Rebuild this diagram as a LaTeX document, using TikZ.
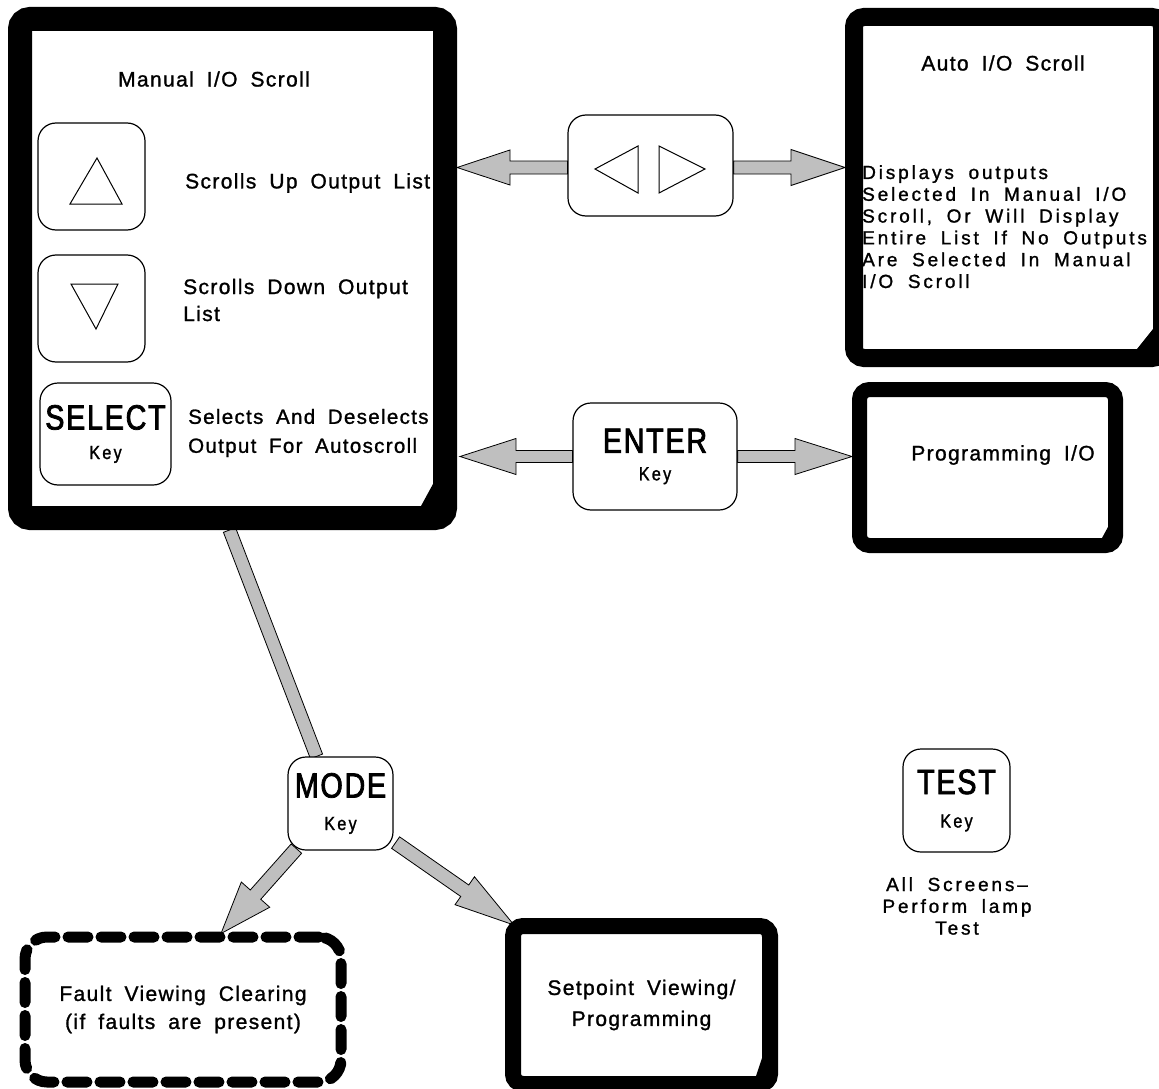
\documentclass[tikz,border=0pt]{standalone}
\usepackage{fontspec}
\setmainfont{Liberation Sans}
\newfontfamily\cadA[LetterSpace=6.5,WordSpace=1.8,FakeBold=1.2]{Liberation Sans}
\newfontfamily\cadB[LetterSpace=15,WordSpace=1.8,FakeBold=1.2]{Liberation Sans}
\newfontfamily\cadBig[FakeStretch=0.82,LetterSpace=5,FakeBold=2.2]{Liberation Sans}
\newfontfamily\cadKey[FakeStretch=0.85,LetterSpace=12,FakeBold=1.4]{Liberation Sans}
\usetikzlibrary{calc}
\pgfdeclarelayer{back}
\pgfdeclarelayer{conn}
\pgfsetlayers{back,conn,main}
\newcommand\cadbigtext[1]{{\cadBig\fontsize{35}{35}\selectfont #1}}
\newcommand\cadkeytext{{\cadKey Key}}
% #1 tail, #2 tip, #3 shaft half width, #4 head half width, #5 head length
\newcommand\fatarrow[5]{%
  \coordinate (fah) at ($(#2)!#5!(#1)$);
  \draw[fatarr] ($(#1)!#3!90:(#2)$) -- ($(fah)!#3!90:(#2)$) -- ($(fah)!#4!90:(#2)$) -- (#2)
    -- ($(fah)!#4!-90:(#2)$) -- ($(fah)!#3!-90:(#2)$) -- ($(#1)!#3!-90:(#2)$) -- cycle;}
\newcommand\fatband[3]{%
  \draw[fatarr] ($(#1)!#3!90:(#2)$) -- ($(#2)!#3!-90:(#1)$) -- ($(#2)!#3!90:(#1)$) -- ($(#1)!#3!-90:(#2)$) -- cycle;}
\begin{document}
\begin{tikzpicture}[x=1pt,y=-1pt,
  lbl/.style={inner sep=0pt, font=\cadA\fontsize{21}{28}\selectfont},
  bodytxt/.style={inner sep=0pt, font=\cadB\fontsize{19}{21.8}\selectfont},
  keybox/.style={draw, fill=white, line width=1.2pt, rounded corners=18pt, inner sep=0pt,
    align=center, font=\fontsize{19}{#1}\selectfont},
  thickbox/.style={draw, fill=white, line width=#1, rounded corners=10pt, inner sep=0pt},
  faultbox/.style={draw, line width=11pt, dash pattern=on 20pt off 13pt, line cap=round,
    rounded corners=22pt, inner sep=0pt, align=center, font=\cadA\fontsize{21}{28}\selectfont},
  fatarr/.style={draw=black, fill=black!25, line width=0.8pt, line join=miter},
  tri/.style={draw, line width=1pt, line join=miter}]
\useasboundingbox (0,0) rectangle (1159,1089);
\begin{pgfonlayer}{back}
\fill[white] (0,0) rectangle (1159,1089);
\end{pgfonlayer}

% thick framed screens
\node[thickbox=24pt, minimum width=425pt, minimum height=499pt] (manual) at (232.5,268.5) {};
\node[thickbox=18pt, minimum width=308pt, minimum height=341pt] (auto) at (1008,187.5) {};
\node[thickbox=15pt, minimum width=256pt, minimum height=156pt] (prog) at (987.5,467.5) {};
\node[thickbox=16pt, minimum width=257pt, minimum height=158pt, align=center,
  font=\cadA\fontsize{21}{31}\selectfont] (setp) at (641.5,1005) {Setpoint Viewing/\\Programming};
\node[faultbox, minimum width=316pt, minimum height=145pt] (fault) at (183,1009.5)
  {Fault Viewing Clearing\\(if faults are present)};

% chamfered inner corners
\fill ($(manual.south east)+(-24,-46)$) -- ($(manual.south east)+(-24,-24)$) -- ($(manual.south east)+(-36,-24)$) -- cycle;
\fill ($(auto.south east)+(-18,-38)$) -- ($(auto.south east)+(-18,-18)$) -- ($(auto.south east)+(-34,-18)$) -- cycle;
\fill ($(prog.south east)+(-15,-26)$) -- ($(prog.south east)+(-15,-15)$) -- ($(prog.south east)+(-21,-15)$) -- cycle;
\fill ($(setp.south east)+(-16,-34)$) -- ($(setp.south east)+(-16,-16)$) -- ($(setp.south east)+(-22,-16)$) -- cycle;

% keys
\node[keybox=29.5pt, minimum width=107pt, minimum height=107pt] (up) at (91.5,176.5) {};
\node[keybox=29.5pt, minimum width=107pt, minimum height=107pt] (down) at (91.5,308.5) {};
\node[keybox=29.5pt, minimum width=131pt, minimum height=102pt] (select) at (105.5,434) {\cadbigtext{SELECT}\\\cadkeytext};
\node[keybox=29.5pt, minimum width=165pt, minimum height=101pt] (lr) at (650.5,165.5) {};
\node[keybox=27.5pt, minimum width=164pt, minimum height=107pt] (enter) at (655,456.5) {\cadbigtext{ENTER}\\\cadkeytext};
\node[keybox=32.5pt, minimum width=105pt, minimum height=93pt] (mode) at (340.5,803.5) {\cadbigtext{MODE}\\\cadkeytext};
\node[keybox=33.5pt, minimum width=107pt, minimum height=103pt] (test) at (956.5,800.5) {\cadbigtext{TEST}\\\cadkeytext};

% key symbols
\draw[tri] ($(up)+(5.5,-18.5)$) -- ($(up)+(-21.5,27.5)$) -- ($(up)+(30.5,27.5)$) -- cycle;
\draw[tri] ($(down)+(-20.5,-24.5)$) -- ($(down)+(26.5,-24.5)$) -- ($(down)+(4.5,20.5)$) -- cycle;
\draw[tri] ($(lr)+(-55.5,3.5)$) -- ($(lr)+(-12.5,-19.5)$) -- ($(lr)+(-12.5,27.5)$) -- cycle;
\draw[tri] ($(lr)+(8.5,-19.5)$) -- ($(lr)+(8.5,27.5)$) -- ($(lr)+(54.5,3.5)$) -- cycle;

% texts
\node[lbl] (mtitle) at (214,79) {Manual I/O Scroll};
\node[lbl, anchor=west] (uptxt) at (185,183) {Scrolls Up Output List};
\node[lbl, anchor=west, align=left, font=\cadA\fontsize{21}{27}\selectfont] (dntxt) at (183,300) {Scrolls Down Output\\List};
\node[lbl, anchor=west, align=left, font=\cadA\fontsize{20.5}{29}\selectfont] (seltxt) at (188,433) {Selects And Deselects\\Output For Autoscroll};
\node[lbl] (atitle) at (1003,63) {Auto I/O Scroll};
\node[bodytxt, anchor=north west, align=left] (abody) at (862,165)
  {Displays outputs\\Selected In Manual I/O\\Scroll, Or Will Display\\Entire List If No Outputs\\Are Selected In Manual\\I/O Scroll};
\node[lbl] (ptxt) at (1003,455) {Programming I/O};
\node[bodytxt, align=center] (testtxt) at (957,906) {All Screens–\\Perform lamp\\Test};

% connectors
\begin{pgfonlayer}{conn}
\coordinate (lrA) at ($(lr.west)+(0,2)$);
\coordinate (lrB) at (manual.east |- lrA);
\fatarrow{lrA}{lrB}{6.5pt}{17.5pt}{53pt}
\coordinate (lrC) at ($(lr.east)+(0,2)$);
\coordinate (lrD) at (auto.west |- lrC);
\fatarrow{lrC}{lrD}{6.5pt}{18pt}{54pt}
\coordinate (enA) at (enter.west);
\coordinate (enB) at ($(manual.east |- enA)+(3,0)$);
\fatarrow{enA}{enB}{6pt}{18pt}{56pt}
\coordinate (enC) at (enter.east);
\coordinate (enD) at (prog.west |- enC);
\fatarrow{enC}{enD}{6pt}{18pt}{57pt}
\coordinate (mdA) at ($(manual.south)+(-3,0)$);
\coordinate (mdB) at ($(mode.north)+(-24,0)$);
\fatband{mdA}{mdB}{6.5pt}
\coordinate (mfA) at ($(mode.south west)+(9,-2)$);
\coordinate (mfB) at ($(fault.north)+(38,2)$);
\fatarrow{mfA}{mfB}{7pt}{19pt}{52pt}
\coordinate (msA) at ($(mode.south east)+(2,-8)$);
\coordinate (msB) at ($(setp.north west)+(9,7)$);
\fatarrow{msA}{msB}{7pt}{17pt}{60pt}
\end{pgfonlayer}
\end{tikzpicture}
\end{document}
